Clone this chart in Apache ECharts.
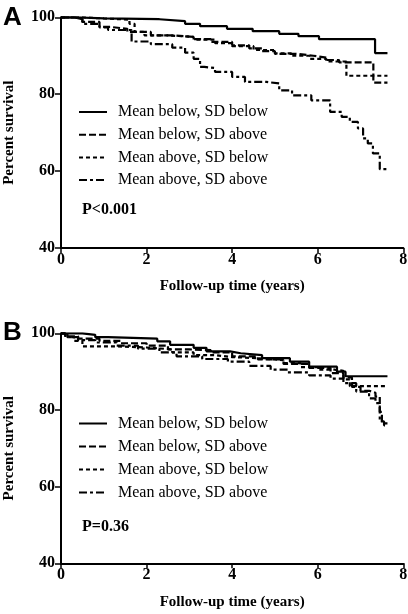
<!DOCTYPE html>
<html>
<head>
<meta charset="utf-8">
<script src="https://cdn.jsdelivr.net/npm/echarts@6/dist/echarts.min.js"></script>
<style>
html,body{margin:0;padding:0;background:#fff;}
#chart{width:408px;height:614px;}
</style>
</head>
<body>
<div id="chart"></div>
<script>
// ---- Data (Kaplan-Meier step points: [years, percent survival]) ----
var seriesNames = ['Mean below, SD below', 'Mean below, SD above', 'Mean above, SD below', 'Mean above, SD above'];
var xTicks = [0, 2, 4, 6, 8];
var yTicks = [40, 60, 80, 100];
var panelLabels = ['A', 'B'];
var pValues = ['P<0.001', 'P=0.36'];

// Panel A
var a_meanBelowSdBelow = [[0,100],[0.4,99.7],[1.0,99.5],[2.3,99.0],[2.9,98.3],[3.25,97.7],[3.88,97.0],[4.48,96.4],[5.1,95.7],[5.55,95.1],[6.03,94.3],[7.34,90.7],[7.63,90.7]];
var a_meanBelowSdAbove = [[0,100],[0.3,99.5],[0.5,98.8],[0.9,97.5],[1.15,97.0],[1.55,96.2],[2.1,95.3],[2.6,94.9],[3.1,94.3],[3.5,93.6],[4.0,92.7],[4.4,91.9],[4.7,91.2],[5.0,90.5],[5.5,90.0],[5.9,89.5],[6.2,88.9],[6.5,88.3],[7.3,83.0],[7.63,83.0]];
var a_meanAboveSdBelow = [[0,100],[0.5,99.7],[1.0,99.4],[1.6,98.3],[1.72,96.2],[1.95,95.3],[2.5,94.9],[3.1,94.2],[3.6,93.3],[4.0,92.5],[4.5,91.5],[5.0,90.6],[5.4,90.0],[5.8,89.2],[6.2,88.5],[6.67,84.8],[7.63,84.8]];
var a_meanAboveSdAbove = [[0,100],[0.3,99.5],[0.5,98.3],[0.9,97.4],[1.1,96.7],[1.65,93.7],[2.1,93.0],[2.6,92.1],[2.9,90.8],[3.1,89.2],[3.25,87.1],[3.35,86.8],[3.6,85.8],[4.0,84.5],[4.3,83.2],[4.8,82.8],[5.1,81.0],[5.4,79.7],[5.85,78.4],[6.29,75.4],[6.56,74.1],[6.75,72.8],[6.94,71.1],[7.06,68.5],[7.17,67.2],[7.29,64.6],[7.45,60.5],[7.61,60.5]];

// Panel B
var b_meanBelowSdBelow = [[0,100],[0.5,99.6],[0.8,99.0],[1.1,98.6],[2.25,97.9],[2.55,97.0],[3.1,96.2],[3.4,95.3],[3.95,94.8],[4.2,94.3],[4.7,93.5],[5.35,92.6],[5.8,91.3],[6.45,90.0],[6.65,88.8],[7.63,88.8]];
var b_meanBelowSdAbove = [[0,100],[0.1,99.2],[0.4,98.6],[0.9,98.0],[1.4,97.4],[2.0,96.8],[2.5,95.8],[3.0,95.6],[3.5,95.0],[4.0,94.0],[4.6,93.2],[5.2,92.0],[5.8,91.0],[6.3,89.6],[6.6,88.5],[6.8,86.0],[7.0,85.0],[7.2,84.5],[7.35,83.5],[7.45,79.5],[7.5,76.5],[7.63,76.5]];
var b_meanAboveSdBelow = [[0,100],[0.15,99.0],[0.3,98.0],[0.5,96.6],[1.0,96.6],[1.3,96.3],[2.0,95.8],[2.6,95.0],[3.1,94.3],[3.6,93.8],[4.0,93.5],[4.6,93.0],[5.2,92.2],[5.6,91.2],[6.0,90.5],[6.4,90.2],[6.6,88.0],[6.75,86.2],[7.63,86.2]];
var b_meanAboveSdAbove = [[0,100],[0.1,99.0],[0.4,98.2],[0.8,97.6],[1.3,96.8],[1.8,96.0],[2.3,95.0],[2.7,94.0],[3.3,93.3],[3.9,92.6],[4.4,91.5],[4.9,90.5],[5.3,89.8],[5.8,89.0],[6.3,88.2],[6.6,87.0],[6.9,84.8],[7.2,83.0],[7.35,81.8],[7.45,77.0],[7.55,76.0],[7.63,76.0]];

// ---- Styles ----
var serif = 'Liberation Serif';
var dashTypes = ['solid', [7, 3], [4, 3], [8, 3, 3, 3]];
var panelData = [
  [a_meanBelowSdBelow, a_meanBelowSdAbove, a_meanAboveSdBelow, a_meanAboveSdAbove],
  [b_meanBelowSdBelow, b_meanBelowSdAbove, b_meanAboveSdBelow, b_meanAboveSdAbove]
];

var grids = [
  {left: 61, top: 17.3, width: 342.3, height: 230.7, containLabel: false, outerBoundsMode: 'none'},
  {left: 61, top: 333.3, width: 342.3, height: 230, containLabel: false, outerBoundsMode: 'none'}
];

function xAxisFor(i) {
  return {
    type: 'value', gridIndex: i, min: xTicks[0], max: xTicks[xTicks.length - 1], interval: 2,
    name: 'Follow-up time (years)', nameLocation: 'middle', nameGap: 31,
    nameTextStyle: {fontFamily: serif, fontWeight: 'bold', fontSize: 15, color: '#000'},
    axisLine: {show: true, onZero: false, lineStyle: {color: '#000', width: 2}},
    axisTick: {show: true, length: 5, lineStyle: {color: '#000', width: 1.5}},
    axisLabel: {margin: 4, fontFamily: serif, fontWeight: 'bold', fontSize: 16, color: '#000'},
    splitLine: {show: false}
  };
}
function yAxisFor(i) {
  return {
    type: 'value', gridIndex: i, min: yTicks[0], max: yTicks[yTicks.length - 1], interval: 20,
    name: 'Percent survival', nameLocation: 'middle', nameGap: 44, nameRotate: 90,
    nameTextStyle: {fontFamily: serif, fontWeight: 'bold', fontSize: 15, color: '#000'},
    axisLine: {show: true, onZero: false, lineStyle: {color: '#000', width: 2}},
    axisTick: {show: true, length: 6, lineStyle: {color: '#000', width: 1.5}},
    axisLabel: {margin: 6, fontFamily: serif, fontWeight: 'bold', fontSize: 16, color: '#000'},
    splitLine: {show: false}
  };
}

var series = [];
panelData.forEach(function (sets, p) {
  sets.forEach(function (d, k) {
    series.push({
      name: seriesNames[k], type: 'line', step: 'end',
      xAxisIndex: p, yAxisIndex: p, data: d,
      symbol: 'none', showSymbol: false, silent: true, animation: false,
      itemStyle: {color: 'rgba(0,0,0,0)'},
      lineStyle: {color: '#000', width: 2.2, type: dashTypes[k]}
    });
  });
});

function legendFor(top, gap) {
  return {
    orient: 'vertical', left: 78, top: top, itemGap: gap, padding: 0,
    itemWidth: 28, itemHeight: 14, data: seriesNames,
    selectedMode: false,
    itemStyle: {color: 'rgba(0,0,0,0)', borderWidth: 0},
    textStyle: {fontFamily: serif, fontSize: 16, color: '#000', lineHeight: 16, padding: [0, 0, 0, 6]}
  };
}

var option = {
  backgroundColor: '#fff',
  animation: false,
  grid: grids,
  xAxis: [xAxisFor(0), xAxisFor(1)],
  yAxis: [yAxisFor(0), yAxisFor(1)],
  legend: [legendFor(104, 6.7), legendFor(415.5, 7)],
  title: [
    {text: panelLabels[0], left: 3, top: 5, padding: 0, textStyle: {fontFamily: 'Liberation Sans', fontWeight: 'bold', fontSize: 26, lineHeight: 26, color: '#000'}},
    {text: panelLabels[1], left: 3, top: 320, padding: 0, textStyle: {fontFamily: 'Liberation Sans', fontWeight: 'bold', fontSize: 26, lineHeight: 26, color: '#000'}},
    {text: pValues[0], left: 82, top: 202, padding: 0, textStyle: {fontFamily: serif, fontWeight: 'bold', fontSize: 16, lineHeight: 16, color: '#000'}},
    {text: pValues[1], left: 82, top: 519, padding: 0, textStyle: {fontFamily: serif, fontWeight: 'bold', fontSize: 16, lineHeight: 16, color: '#000'}}
  ],
  series: series
};

var chart = echarts.init(document.getElementById('chart'), null, {renderer: 'canvas'});
chart.setOption(option);
</script>
</body>
</html>
